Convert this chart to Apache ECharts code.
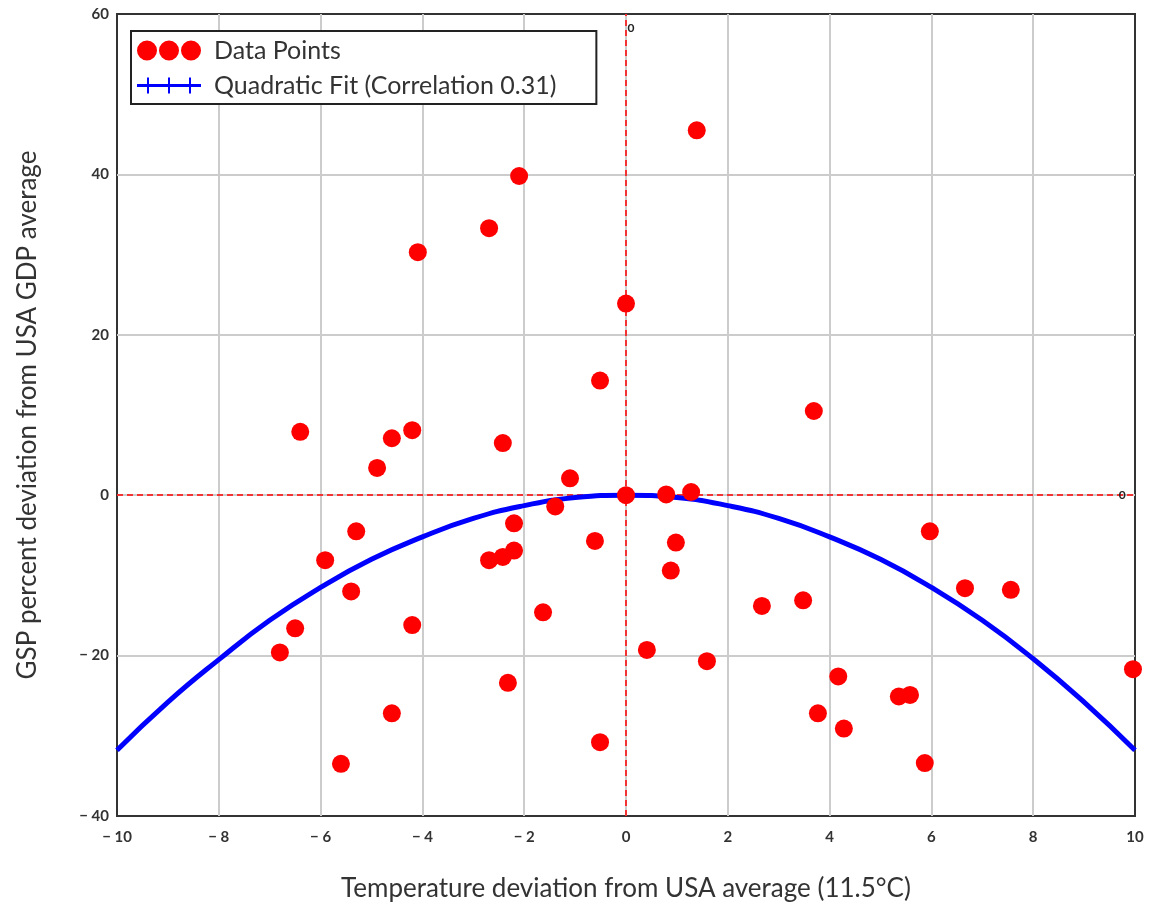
<!DOCTYPE html>
<html>
<head>
<meta charset="utf-8">
<script src="https://cdn.jsdelivr.net/npm/echarts@6/dist/echarts.min.js"></script>
<style>html,body{margin:0;padding:0;background:#fff}#c{width:1153px;height:908px}</style>
</head>
<body>
<div id="c"></div>
<script>
// Data points: temperature deviation (°C) and GSP percent deviation
const tempDev = [1.39,-2.10,-2.69,-4.09,0.00,-0.51,3.69,-6.40,-4.20,-4.60,-2.42,-4.89,-1.10,0.00,0.79,1.28,-1.39,-2.20,-5.30,5.97,-0.61,0.98,-2.20,-2.42,-2.69,-5.91,0.88,6.66,7.56,-5.40,3.48,2.67,-1.63,-6.50,-4.20,0.41,-6.80,1.59,9.96,4.17,-2.32,5.36,5.58,-4.60,3.77,4.28,-0.51,-5.60,5.87];
const gspDev  = [45.5,39.8,33.3,30.3,23.9,14.3,10.5,7.9,8.1,7.1,6.5,3.4,2.1,0.0,0.1,0.4,-1.4,-3.5,-4.5,-4.5,-5.7,-5.9,-6.9,-7.7,-8.1,-8.1,-9.4,-11.6,-11.8,-12.0,-13.1,-13.8,-14.6,-16.6,-16.2,-19.3,-19.6,-20.7,-21.7,-22.6,-23.4,-25.1,-24.9,-27.2,-27.2,-29.1,-30.8,-33.5,-33.4];
// Quadratic fit curve
const fitX = [-10,-9,-8,-7,-6,-5,-4,-3,-2,-1,0,1,2,3,4,5,6,7,8,9,10];
const fitY = [-31.8,-25.8,-20.5,-15.6,-11.5,-8.0,-5.2,-2.9,-1.3,-0.3,0,-0.3,-1.3,-2.9,-5.2,-8.0,-11.5,-15.6,-20.4,-25.8,-31.8];
const xTicks = [-10,-8,-6,-4,-2,0,2,4,6,8,10];
const yTicks = [-40,-20,0,20,40,60];
const seriesNames = ['Data Points','Quadratic Fit (Correlation 0.31)'];
const xTitle = 'Temperature deviation from USA average (11.5°C)';
const yTitle = 'GSP percent deviation from USA GDP average';

const pts = tempDev.map((x,i)=>[x,gspDev[i]]);
const fit = fitX.map((x,i)=>[x,fitY[i]]);
const fmt = v => v < 0 ? '\u2212 ' + (-v) : String(v);
const FONT = 'Lato';

const chart = echarts.init(document.getElementById('c'), null, {renderer:'canvas'});
chart.setOption({
  animation:false,
  backgroundColor:'#fff',
  grid:{left:117,right:18,top:14,bottom:92,show:true,borderColor:'#333',borderWidth:2,backgroundColor:'transparent'},
  legend:{
    orient:'vertical', left:131, top:31,
    borderColor:'#222', borderWidth:2, backgroundColor:'#fff',
    padding:[7,40,6,6], itemGap:10, itemWidth:64, itemHeight:24,
    textStyle:{fontFamily:FONT,fontSize:25,color:'#333',padding:[0,0,0,8]},
    data:[
      {name:seriesNames[0], icon:'path://M0,10a10,10 0 1,0 20,0a10,10 0 1,0 -20,0M22,10a10,10 0 1,0 20,0a10,10 0 1,0 -20,0M44,10a10,10 0 1,0 20,0a10,10 0 1,0 -20,0'},
      {name:seriesNames[1], icon:'path://M0,8.5H64V11.5H0ZM10,2H12V18H10ZM31,2H33V18H31ZM52,2H54V18H52Z'}
    ]
  },
  xAxis:{
    type:'value', min:-10, max:10, interval:2,
    name:xTitle, nameLocation:'middle', nameGap:60,
    nameTextStyle:{fontFamily:FONT,fontSize:26,color:'#333'},
    axisLine:{show:false}, axisTick:{show:false},
    axisLabel:{formatter:fmt,fontFamily:FONT,fontSize:15,fontWeight:'bold',color:'#333',margin:14},
    splitLine:{show:true,showMinLine:false,showMaxLine:false,lineStyle:{color:'#cccccc',width:2}}
  },
  yAxis:{
    type:'value', min:-40, max:60, interval:20,
    name:yTitle, nameLocation:'middle', nameGap:76, nameRotate:90,
    nameTextStyle:{fontFamily:FONT,fontSize:26,color:'#333'},
    axisLine:{show:false}, axisTick:{show:false},
    axisLabel:{formatter:fmt,fontFamily:FONT,fontSize:15,fontWeight:'bold',color:'#333',margin:8},
    splitLine:{show:true,showMinLine:false,showMaxLine:false,lineStyle:{color:'#cccccc',width:2}}
  },
  series:[
    {
      name:seriesNames[1], type:'line', data:fit, smooth:true, showSymbol:false,
      color:'#0000ff', lineStyle:{color:'#0000ff',width:5}, z:3
    },
    {
      name:seriesNames[0], type:'scatter', data:pts, symbol:'circle', symbolSize:18,
      color:'#ff0000', itemStyle:{color:'#ff0000',opacity:1}, z:4,
      markLine:{
        silent:true, symbol:'none', z:2,
        lineStyle:{color:'#ff0000',type:[6,4],width:1.5},
        label:{show:false},
        data:[{xAxis:0},{yAxis:0}]
      },
      markPoint:{
        silent:true, symbol:'circle', symbolSize:1, itemStyle:{color:'transparent'},
        label:{show:true,formatter:'0',fontFamily:FONT,fontSize:12,fontWeight:'bold',color:'#222'},
        data:[{coord:[0.1,58.2]},{coord:[9.75,0]}]
      }
    }
  ]
});
</script>
</body>
</html>
